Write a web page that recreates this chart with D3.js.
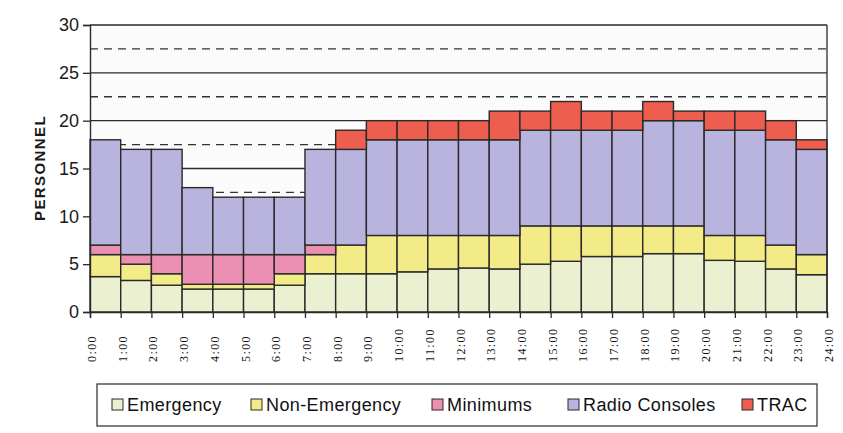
<!DOCTYPE html>
<html>
<head>
<meta charset="utf-8">
<script src="https://cdn.jsdelivr.net/npm/d3@7"></script>
<style>
  html, body { margin: 0; padding: 0; background: #ffffff; }
  svg { display: block; }
</style>
</head>
<body>
<svg id="chart" width="843" height="433"></svg>
<script>
// Hour boundaries on the x axis (24 one-hour intervals)
const hourLabels = ["0:00","1:00","2:00","3:00","4:00","5:00","6:00","7:00","8:00","9:00","10:00","11:00","12:00",
  "13:00","14:00","15:00","16:00","17:00","18:00","19:00","20:00","21:00","22:00","23:00","24:00"];

const seriesNames = ["Emergency", "Non-Emergency", "Minimums", "Radio Consoles", "TRAC"];

// Personnel per hour interval, one array per staffing category
const emergency    = [3.7,3.3,2.8,2.4,2.4,2.4,2.8,4.0,4.0,4.0,4.2,4.5,4.6,4.5,5.0,5.3,5.8,5.8,6.1,6.1,5.4,5.3,4.5,3.9];
const nonEmergency = [2.3,1.7,1.2,0.5,0.5,0.5,1.2,2.0,3.0,4.0,3.8,3.5,3.4,3.5,4.0,3.7,3.2,3.2,2.9,2.9,2.6,2.7,2.5,2.1];
const minimums     = [1,1,2,3.1,3.1,3.1,2,1,0,0,0,0,0,0,0,0,0,0,0,0,0,0,0,0];
const radioConsoles= [11,11,11,7,6,6,6,10,10,10,10,10,10,10,10,10,10,10,11,11,11,11,11,11];
const trac         = [0,0,0,0,0,0,0,0,2,2,2,2,2,3,2,3,2,2,2,1,2,2,2,1];

const yTicks = [0, 5, 10, 15, 20, 25, 30];
const yMinor = [2.5, 7.5, 12.5, 17.5, 22.5, 27.5];

const colors = ["#ebf0d0", "#f3eb88", "#eb8fb3", "#b8b4de", "#ee5e4e"];

// Build rows for d3.stack
const rows = emergency.map((_, i) => ({
  idx: i,
  "Emergency": emergency[i],
  "Non-Emergency": nonEmergency[i],
  "Minimums": minimums[i],
  "Radio Consoles": radioConsoles[i],
  "TRAC": trac[i]
}));

const svg = d3.select("#chart");
const plotLeft = 90, plotRight = 827, plotTop = 25, plotBottom = 312;

const x = d3.scaleLinear().domain([0, 24]).range([plotLeft, plotRight]);
const y = d3.scaleLinear().domain([0, 30]).range([plotBottom, plotTop]);

const ink = "#2a2a2a";

// Plot background
svg.append("rect").attr("x", plotLeft).attr("y", plotTop)
  .attr("width", plotRight - plotLeft).attr("height", plotBottom - plotTop)
  .attr("fill", "#fbfbfb");

// Major (solid) and minor (dashed) gridlines
svg.append("g").selectAll("line").data(yTicks.filter(d => d > 0)).join("line")
  .attr("x1", plotLeft).attr("x2", plotRight)
  .attr("y1", d => y(d)).attr("y2", d => y(d))
  .attr("stroke", ink).attr("stroke-width", 1.3);
svg.append("g").selectAll("line").data(yMinor).join("line")
  .attr("x1", plotLeft).attr("x2", plotRight)
  .attr("y1", d => y(d)).attr("y2", d => y(d))
  .attr("stroke", "#333").attr("stroke-width", 1.3)
  .attr("stroke-dasharray", "8,6");

// Stacked bars
const stacked = d3.stack().keys(seriesNames)(rows);
const layers = svg.append("g").selectAll("g").data(stacked).join("g")
  .attr("fill", (d, i) => colors[i]);
layers.selectAll("rect")
  .data(d => d.filter(s => s[1] - s[0] > 0))
  .join("rect")
  .attr("x", d => x(d.data.idx))
  .attr("width", d => x(d.data.idx + 1) - x(d.data.idx))
  .attr("y", d => y(d[1]))
  .attr("height", d => y(d[0]) - y(d[1]))
  .attr("stroke", ink).attr("stroke-width", 1.4);

// Right border of plot area
svg.append("line").attr("x1", plotRight).attr("x2", plotRight)
  .attr("y1", plotTop).attr("y2", plotBottom)
  .attr("stroke", ink).attr("stroke-width", 1.3);

// Y axis
const yAxis = d3.axisLeft(y).tickValues(yTicks).tickSize(7).tickPadding(4);
const gy = svg.append("g").attr("transform", `translate(${plotLeft},0)`).call(yAxis);
gy.select(".domain").attr("stroke", ink).attr("stroke-width", 1.4);
gy.selectAll(".tick line").attr("stroke", ink).attr("stroke-width", 1.3);
gy.selectAll(".tick text")
  .attr("font-family", "Liberation Sans, Arial, sans-serif")
  .attr("font-size", 18).attr("fill", "#1a1a1a");

// X axis: tick marks at hour boundaries, labels rotated
const xAxis = d3.axisBottom(x).tickValues(d3.range(25)).tickSize(6).tickFormat(() => "");
const gx = svg.append("g").attr("transform", `translate(0,${plotBottom})`).call(xAxis);
gx.select(".domain").attr("stroke", ink).attr("stroke-width", 1.4);
gx.selectAll(".tick line").attr("stroke", ink).attr("stroke-width", 1.3);

svg.append("g").selectAll("text").data(hourLabels).join("text")
  .attr("transform", (d, i) => `translate(${x(i) + 6},362) rotate(-90)`)
  .attr("text-anchor", "start")
  .attr("font-family", "Liberation Serif, Times New Roman, serif")
  .attr("font-size", 12)
  .attr("letter-spacing", 1.4)
  .attr("fill", "#111")
  .text(d => d);

// Y axis title
svg.append("text")
  .attr("transform", "translate(45,168) rotate(-90)")
  .attr("text-anchor", "middle")
  .attr("font-family", "Liberation Sans, Arial, sans-serif")
  .attr("font-weight", "bold")
  .attr("font-size", 15)
  .attr("letter-spacing", 1.4)
  .attr("fill", "#1a1a1a")
  .text("PERSONNEL");

// Legend
svg.append("rect").attr("x", 97).attr("y", 384).attr("width", 720).attr("height", 42)
  .attr("fill", "#ffffff").attr("stroke", ink).attr("stroke-width", 1.2);

const legendX = [112, 251, 432, 568, 742];
const legend = svg.append("g").selectAll("g").data(seriesNames).join("g")
  .attr("transform", (d, i) => `translate(${legendX[i]},399)`);
legend.append("rect").attr("width", 11).attr("height", 11)
  .attr("fill", (d, i) => colors[i]).attr("stroke", ink).attr("stroke-width", 1);
legend.append("text").attr("x", 15).attr("y", 12)
  .attr("font-family", "Liberation Sans, Arial, sans-serif")
  .attr("font-size", 18).attr("letter-spacing", 0.4).attr("fill", "#111")
  .text(d => d);
</script>
</body>
</html>
